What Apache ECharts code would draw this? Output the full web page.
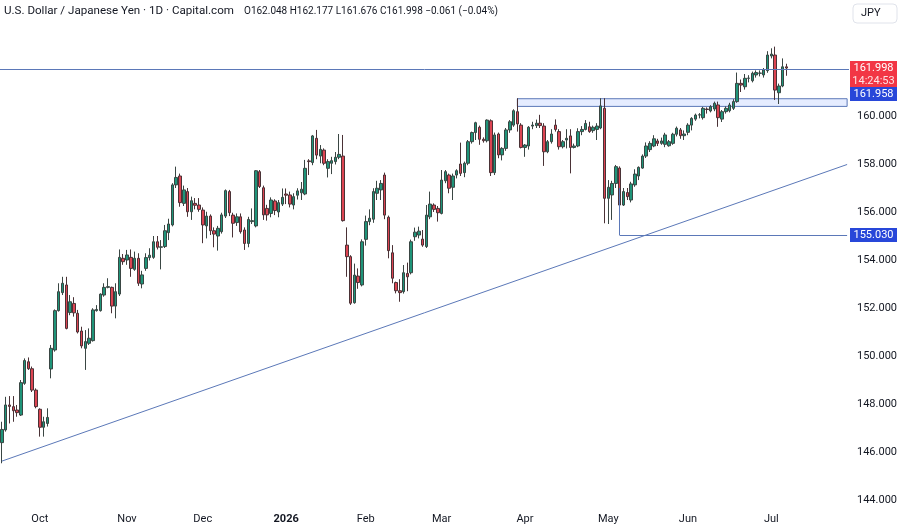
<!DOCTYPE html>
<html>
<head>
<meta charset="utf-8">
<script src="https://cdn.jsdelivr.net/npm/echarts@6/dist/echarts.min.js"></script>
<style>
  html, body { margin: 0; padding: 0; background: #ffffff; }
  #chart { width: 900px; height: 525px; }
</style>
</head>
<body>
<div id="chart"></div>
<script>
// USD/JPY daily, 17 Sep 2025 -> 7 Jul 2026
var opens = [
  146.39, 146.92, 147.96, 147.89, 147.75, 147.54, 148.86, 149.76, 149.47, 148.58,
  147.78, 147.03, 147.19, 149.46, 150.25, 151.89, 152.64, 152.96, 151.81, 152.19,
  151.78, 151.04, 150.32, 150.53, 150.64, 151.89, 151.89, 152.54, 152.86, 152.86,
  152.08, 152.58, 154.07, 154.00, 154.11, 153.61, 154.07, 153.00, 153.65, 154.10,
  154.11, 154.76, 154.53, 154.56, 155.14, 155.46, 157.13, 157.50, 156.36, 156.85,
  156.01, 156.36, 156.29, 156.08, 155.42, 155.83, 155.22, 155.00, 155.18, 155.83,
  156.85, 155.87, 155.56, 155.80, 155.25, 154.69, 155.60, 155.42, 157.68, 157.01,
  156.15, 155.94, 156.46, 156.00, 156.33, 156.75, 156.71, 156.29, 156.70, 156.80,
  156.75, 158.13, 158.06, 159.07, 158.33, 158.58, 157.82, 158.03, 158.10, 158.28,
  158.33, 154.62, 154.14, 152.22, 153.33, 152.96, 154.86, 155.60, 155.70, 156.78,
  156.92, 157.54, 155.78, 154.30, 153.06, 152.72, 152.68, 153.44, 153.47, 154.97,
  155.04, 154.87, 154.56, 155.80, 156.29, 156.15, 155.94, 157.30, 157.54, 157.03,
  157.54, 158.00, 157.64, 158.03, 158.93, 159.31, 159.53, 159.03, 158.97, 159.80,
  157.64, 159.25, 158.38, 158.65, 159.42, 159.62, 160.18, 159.62, 158.69, 158.75,
  159.58, 159.60, 159.70, 159.58, 158.51, 158.93, 159.62, 159.35, 158.72, 159.00,
  159.17, 158.69, 158.75, 159.35, 159.44, 159.55, 159.39, 159.44, 159.50, 160.32,
  156.57, 156.71, 157.19, 157.83, 156.29, 156.81, 156.50, 157.13, 157.50, 157.83,
  158.33, 158.60, 158.75, 158.96, 158.86, 158.82, 158.76, 158.86, 159.24, 159.42,
  159.18, 159.32, 159.62, 159.87, 160.04, 159.93, 160.29, 160.21, 160.29, 160.46,
  159.87, 160.18, 160.22, 160.32, 160.60, 161.36, 161.22, 161.57, 161.47, 161.71,
  161.78, 161.71, 161.89, 162.50, 162.54, 160.97, 161.25, 162.048
];
var closes = [
  146.94, 147.96, 147.90, 147.72, 147.64, 148.89, 149.81, 149.47, 148.58, 147.89,
  147.03, 147.26, 147.44, 150.32, 151.89, 152.68, 153.03, 151.15, 152.26, 151.80,
  151.00, 150.42, 150.60, 150.74, 151.92, 151.94, 152.58, 152.86, 152.89, 152.08,
  152.68, 154.11, 153.93, 154.21, 153.65, 154.07, 153.03, 153.38, 154.10, 154.20,
  154.76, 154.53, 154.55, 155.22, 155.50, 157.13, 157.44, 156.39, 156.92, 156.01,
  156.47, 156.28, 156.11, 155.46, 155.83, 155.22, 155.08, 155.32, 155.88, 156.89,
  155.97, 155.53, 155.80, 155.18, 154.69, 155.69, 155.64, 157.72, 157.06, 155.88,
  155.88, 156.50, 156.06, 156.39, 156.61, 156.70, 156.33, 156.64, 156.88, 156.95,
  157.82, 158.10, 159.17, 158.37, 158.61, 158.03, 158.10, 158.14, 158.28, 158.40,
  155.64, 154.14, 152.20, 153.37, 153.06, 154.76, 155.60, 155.74, 156.85, 156.99,
  157.19, 155.87, 154.39, 153.24, 152.72, 152.64, 153.47, 153.30, 154.76, 155.16,
  155.20, 154.62, 155.87, 156.33, 156.11, 155.97, 157.33, 157.68, 156.99, 157.50,
  157.72, 157.61, 158.03, 158.93, 159.31, 159.72, 159.03, 158.97, 159.83, 157.64,
  159.21, 158.38, 158.65, 159.42, 159.76, 160.22, 159.67, 158.69, 158.79, 159.53,
  159.62, 159.70, 159.60, 158.51, 158.93, 159.25, 159.44, 158.72, 158.93, 159.07,
  158.69, 158.75, 159.35, 159.44, 159.69, 159.35, 159.53, 159.58, 160.42, 156.57,
  157.03, 157.19, 157.89, 156.29, 156.85, 156.64, 157.17, 157.58, 157.86, 158.33,
  158.75, 158.86, 159.05, 158.86, 158.96, 159.21, 158.93, 159.24, 159.49, 159.18,
  159.25, 159.62, 159.90, 160.04, 160.05, 160.32, 160.27, 160.39, 160.53, 159.93,
  160.18, 160.32, 160.46, 160.60, 161.36, 161.29, 161.57, 161.58, 161.78, 161.81,
  161.79, 161.92, 162.54, 162.58, 161.08, 161.25, 162.05, 161.998
];
var lows = [
  145.53, 146.85, 147.19, 147.26, 147.47, 147.50, 148.80, 149.42, 148.50, 147.82,
  146.64, 146.64, 147.06, 149.07, 150.18, 151.85, 152.54, 151.11, 151.70, 151.64,
  150.94, 150.32, 149.42, 150.46, 150.60, 151.85, 151.85, 152.47, 152.82, 151.78,
  151.57, 152.50, 153.80, 153.80, 153.30, 153.55, 152.92, 152.82, 153.55, 153.98,
  154.05, 154.44, 153.61, 154.50, 154.83, 155.40, 157.00, 156.22, 156.25, 155.80,
  155.67, 156.11, 156.01, 154.70, 154.90, 155.04, 154.53, 154.39, 155.10, 155.75,
  155.83, 154.94, 155.42, 155.10, 154.42, 154.53, 155.50, 155.36, 157.00, 155.67,
  155.64, 155.78, 155.87, 155.78, 156.25, 156.33, 156.19, 156.11, 156.52, 156.50,
  156.70, 157.54, 157.95, 158.20, 158.03, 157.95, 157.44, 157.58, 157.98, 158.20,
  155.60, 153.30, 152.13, 152.18, 152.80, 152.90, 154.60, 155.45, 155.55, 156.50,
  156.50, 155.70, 154.07, 153.03, 152.61, 152.26, 152.60, 152.70, 153.40, 154.80,
  154.90, 154.55, 154.50, 155.70, 156.00, 155.60, 155.90, 157.20, 156.78, 156.50,
  157.40, 157.50, 157.45, 157.95, 158.85, 159.00, 158.80, 158.89, 158.90, 157.50,
  157.54, 158.24, 158.15, 158.55, 159.30, 159.55, 159.35, 158.65, 158.30, 158.60,
  159.45, 159.50, 159.50, 157.92, 158.45, 158.85, 159.35, 158.60, 158.65, 158.65,
  157.61, 158.65, 158.70, 159.20, 159.40, 159.30, 159.30, 159.00, 159.45, 155.53,
  155.50, 155.67, 157.00, 156.08, 156.25, 156.50, 156.40, 157.05, 157.33, 157.80,
  158.25, 158.50, 158.70, 158.75, 158.80, 158.70, 158.72, 158.80, 159.15, 159.05,
  159.00, 159.20, 159.40, 159.80, 159.90, 159.85, 160.10, 160.15, 160.20, 159.55,
  159.75, 160.10, 160.15, 160.25, 160.55, 161.00, 161.10, 161.40, 161.40, 161.60,
  161.65, 161.60, 161.80, 162.40, 160.67, 160.50, 161.20, 161.676
];
var highs = [
  147.26, 148.30, 148.33, 148.33, 147.96, 149.00, 149.90, 149.94, 149.56, 148.65,
  147.82, 147.47, 147.82, 150.46, 151.94, 153.03, 153.30, 153.30, 152.54, 152.45,
  151.92, 151.22, 151.08, 151.15, 151.99, 152.12, 152.61, 153.03, 153.24, 152.89,
  153.03, 154.44, 154.25, 154.42, 154.44, 154.35, 154.28, 153.55, 154.28, 154.49,
  155.00, 155.00, 154.83, 155.46, 155.72, 157.20, 157.89, 157.60, 157.10, 157.00,
  156.64, 156.58, 156.58, 156.19, 156.01, 155.90, 155.36, 155.42, 155.97, 156.94,
  156.92, 155.97, 155.94, 155.94, 155.36, 155.80, 156.15, 157.75, 157.75, 157.10,
  156.30, 156.61, 156.53, 156.50, 156.98, 156.98, 156.85, 156.78, 156.99, 157.25,
  158.17, 158.20, 159.21, 159.42, 158.79, 158.65, 158.20, 158.30, 158.50, 159.25,
  159.21, 155.36, 154.20, 153.85, 153.65, 154.86, 155.85, 156.11, 156.99, 157.30,
  157.33, 157.64, 155.85, 154.62, 153.10, 153.20, 153.79, 153.89, 154.85, 155.35,
  155.39, 155.25, 156.29, 156.85, 156.36, 156.25, 157.75, 157.75, 157.60, 157.60,
  157.78, 158.89, 158.10, 159.00, 159.35, 159.76, 159.60, 159.11, 159.86, 159.86,
  159.31, 159.31, 158.70, 159.50, 159.83, 160.28, 160.74, 159.70, 158.83, 159.58,
  159.76, 159.85, 160.05, 159.70, 159.00, 159.45, 159.86, 159.45, 159.00, 159.45,
  159.45, 158.85, 159.49, 159.58, 159.83, 159.76, 159.60, 159.70, 160.74, 160.74,
  157.33, 157.30, 157.96, 157.90, 157.00, 157.00, 157.26, 157.78, 157.90, 158.40,
  158.90, 158.95, 159.20, 159.05, 159.10, 159.30, 159.00, 159.30, 159.56, 159.50,
  159.40, 159.70, 159.95, 160.10, 160.12, 160.38, 160.36, 160.45, 160.60, 160.60,
  160.25, 160.40, 160.55, 160.70, 161.81, 161.52, 161.75, 161.70, 161.85, 161.90,
  161.90, 162.00, 162.70, 162.82, 162.89, 161.35, 162.40, 162.177
];

// calendar: weekdays from this date, minus the closed days
var firstDay = '2025-09-17';
var closedDays = ['2025-12-25', '2026-01-01'];
var emptySlots = 16;            // blank room right of the last bar
var monthNames = ['Jan', 'Feb', 'Mar', 'Apr', 'May', 'Jun', 'Jul', 'Aug', 'Sep', 'Oct', 'Nov', 'Dec'];

// header legend
var titleText = 'U.S. Dollar / Japanese Yen · 1D · Capital.com';
var legendText = 'O162.048 H162.177 L161.676 C161.998 \u22120.061 (\u22120.04%)';

// drawings
var priceLine = 161.958;
var lastPrice = 161.998;
var countdown = '14:24:53';
var supportLevel = 155.030;
var zoneTop = 160.72, zoneBottom = 160.40, zoneStart = 136;
var trendFrom = [0, 145.62], trendTo = [223, 157.98];
var legStart = [163, 157.00];

var dates = [];
var d = new Date(firstDay + 'T12:00:00Z');
while (dates.length < opens.length) {
  var s = d.toISOString().slice(0, 10);
  var wd = d.getUTCDay();
  if (wd !== 0 && wd !== 6 && closedDays.indexOf(s) < 0) dates.push(s);
  d.setUTCDate(d.getUTCDate() + 1);
}
var categories = dates.slice();
for (var k = 0; k < emptySlots; k++) categories.push('');
var lastIdx = categories.length - 1;

var tickText = {};
for (var i = 1; i < dates.length; i++) {
  if (dates[i].slice(5, 7) !== dates[i - 1].slice(5, 7)) {
    var m = +dates[i].slice(5, 7);
    tickText[i] = m === 1 ? '{b|' + dates[i].slice(0, 4) + '}' : monthNames[m - 1];
  }
}

var ohlc = opens.map(function (o, i) {
  return [o, closes[i], lows[i], highs[i]];
});

var textColor = '#131722';
var drawColor = '#5b78b8';
var fontFam = 'Roboto, "Noto Sans", sans-serif';

var chart = echarts.init(document.getElementById('chart'), null, { renderer: 'canvas' });

chart.setOption({
  animation: false,
  backgroundColor: '#ffffff',
  grid: { left: 0, right: 50, top: 20, bottom: 25 },
  xAxis: {
    type: 'category',
    data: categories,
    boundaryGap: true,
    axisLine: { show: false },
    axisTick: { show: false },
    splitLine: { show: false },
    axisLabel: {
      margin: 12,
      padding: [2, 0, 0, 0],
      fontSize: 11,
      color: textColor,
      fontFamily: fontFam,
      interval: function (index) { return tickText[index] !== undefined; },
      formatter: function (value, index) { return tickText[index] || ''; },
      rich: { b: { fontWeight: 'bold', fontSize: 11, color: textColor, fontFamily: fontFam } }
    }
  },
  yAxis: {
    type: 'value',
    position: 'right',
    min: 144,
    max: 164,
    interval: 2,
    axisLine: { show: false },
    axisTick: { show: false },
    splitLine: { show: false },
    axisLabel: {
      showMaxLabel: false,
      margin: 8,
      padding: [3, 0, 0, 0],
      fontSize: 11,
      color: textColor,
      fontFamily: fontFam,
      formatter: function (v) { return v.toFixed(3); }
    }
  },
  series: [{
    type: 'candlestick',
    data: ohlc,
    barWidth: 3,
    itemStyle: {
      color: '#1f9479',
      color0: '#dc4452',
      borderColor: '#3a4643',
      borderColor0: '#4a3236',
      borderWidth: 1
    },
    markLine: {
      silent: true,
      symbol: 'none',
      label: { show: false },
      lineStyle: { color: drawColor, width: 1, type: 'solid' },
      data: [
        { yAxis: priceLine },
        [{ coord: trendFrom }, { coord: trendTo }],
        [{ coord: legStart }, { coord: [legStart[0], supportLevel] }],
        [{ coord: [legStart[0], supportLevel] }, { coord: [lastIdx, supportLevel] }]
      ]
    },
    markArea: {
      silent: true,
      itemStyle: { color: 'rgba(41, 98, 255, 0.12)', borderColor: drawColor, borderWidth: 1 },
      data: [[{ coord: [zoneStart, zoneTop] }, { coord: [lastIdx, zoneBottom] }]]
    }
  }]
});

// header, price tags on the right scale
var yLast = Math.round(chart.convertToPixel({ yAxisIndex: 0 }, lastPrice));
var ySup = Math.round(chart.convertToPixel({ yAxisIndex: 0 }, supportLevel));
var tagX = 850, tagW = 47;
function tagText(txt, y, color) {
  return {
    type: 'text', z: 101, x: tagX + tagW / 2, y: y,
    style: { text: txt, fill: color || '#ffffff', font: '11px ' + fontFam, align: 'center', verticalAlign: 'middle' }
  };
}
chart.setOption({
  graphic: [
    { type: 'text', z: 101, x: 4, y: 11, style: { text: titleText, fill: textColor, font: '11.6px ' + fontFam, verticalAlign: 'middle' } },
    { type: 'text', z: 101, x: 244, y: 11, style: { text: legendText, fill: textColor, font: '10px ' + fontFam, verticalAlign: 'middle' } },
    { type: 'rect', z: 100, shape: { x: tagX, y: yLast - 7, width: tagW, height: 27 }, style: { fill: '#f23645' } },
    tagText(lastPrice.toFixed(3), yLast),
    tagText(countdown, yLast + 13, '#fde2e4'),
    { type: 'rect', z: 100, shape: { x: tagX, y: yLast + 19, width: tagW, height: 14 }, style: { fill: '#2847d9' } },
    tagText(priceLine.toFixed(3), yLast + 26),
    { type: 'rect', z: 100, shape: { x: tagX, y: ySup - 7, width: tagW, height: 14 }, style: { fill: '#2847d9' } },
    tagText(supportLevel.toFixed(3), ySup),
    { type: 'rect', z: 100, shape: { x: 853, y: 4, width: 44, height: 19, r: 4 }, style: { fill: '#ffffff', stroke: '#e0e3eb', lineWidth: 1 } },
    { type: 'text', z: 101, x: 861, y: 13, style: { text: 'JPY', fill: textColor, font: '11px ' + fontFam, verticalAlign: 'middle' } }
  ]
});
</script>
</body>
</html>
